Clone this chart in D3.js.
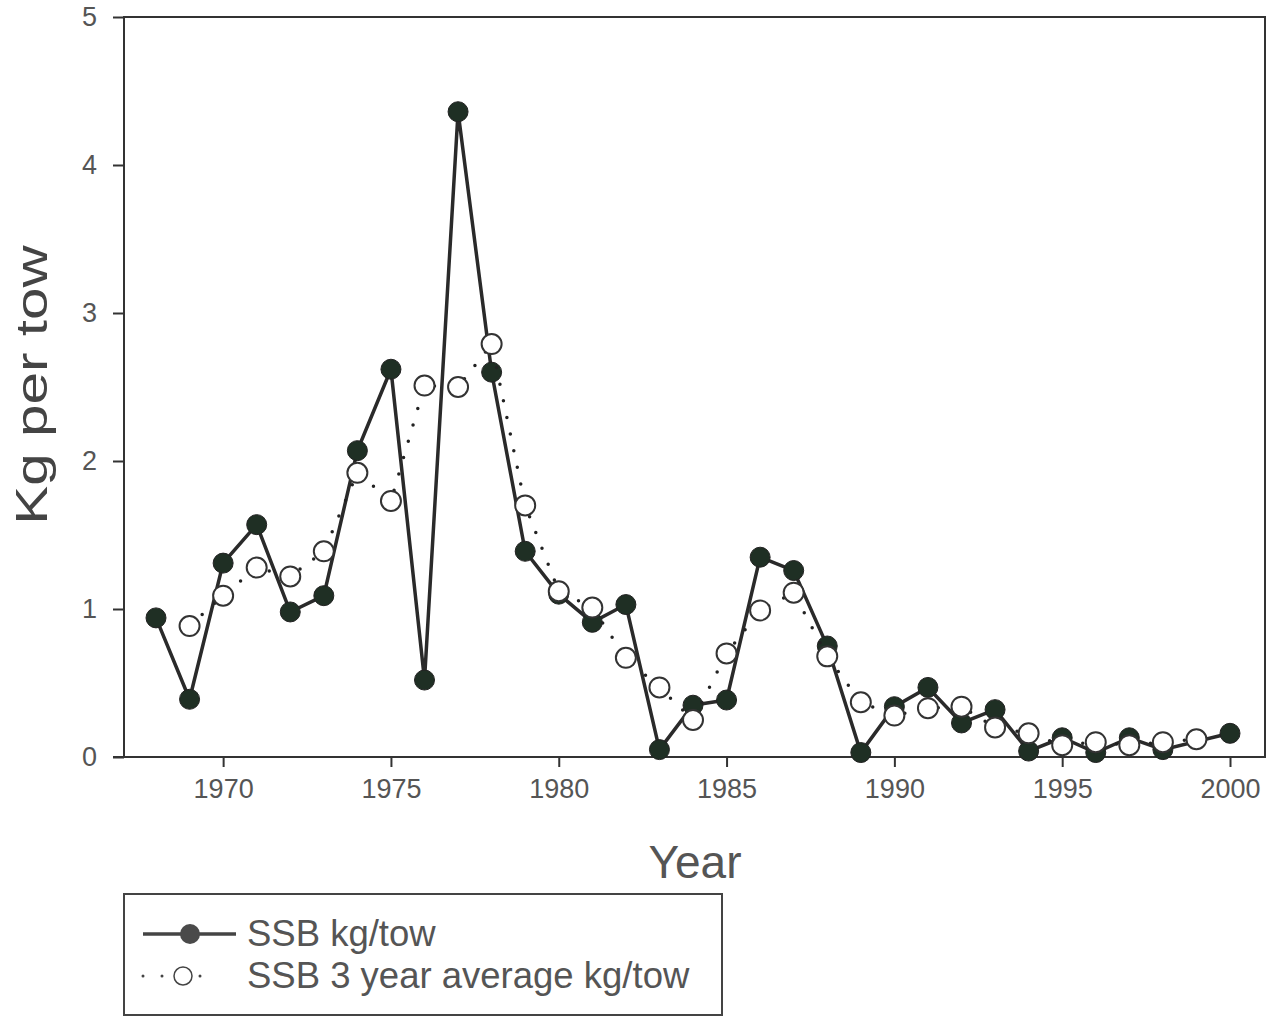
<!DOCTYPE html>
<html>
<head>
<meta charset="utf-8">
<script src="https://cdn.jsdelivr.net/npm/d3@7"></script>
<style>
  body { margin: 0; background: #fff; }
  text { font-family: "Liberation Sans", Arial, sans-serif; }
</style>
</head>
<body>
<svg id="chart" width="1277" height="1017"></svg>
<script>
var years = [1968,1969,1970,1971,1972,1973,1974,1975,1976,1977,1978,1979,1980,1981,1982,1983,1984,
             1985,1986,1987,1988,1989,1990,1991,1992,1993,1994,1995,1996,1997,1998,1999,2000]
var ssb = [0.94,0.39,1.31,1.57,0.98,1.09,2.07,2.62,0.52,4.36,2.60,1.39,1.10,0.91,1.03,0.05,0.35,
           0.385,1.35,1.26,0.75,0.03,0.34,0.47,0.23,0.32,0.04,0.13,0.03,0.13,0.05,null,0.16]
// 3 year running average, no value at the ends
var avg3 = [null,0.885,1.09,1.28,1.22,1.39,1.92,1.73,2.51,2.50,2.79,1.70,1.12,1.01,0.67,0.47,0.25,
            0.70,0.99,1.11,0.68,0.37,0.28,0.33,0.34,0.20,0.16,0.08,0.10,0.08,0.10,0.12,null]
var xTicks = [1970,1975,1980,1985,1990,1995,2000]
var yTicks = [0,1,2,3,4,5]
var legendLabels = ["SSB kg/tow", "SSB 3 year average kg/tow"]

var svg = d3.select("#chart")

var x = d3.scaleLinear().domain([1968, 2000]).range([156, 1230])
var y = d3.scaleLinear().domain([0, 5]).range([757, 17])

var plotL = 124, plotR = 1265, plotT = 17, plotB = 757

//frame
svg.append("rect").
    attr("x", plotL).
    attr("y", plotT).
    attr("width", plotR - plotL).
    attr("height", plotB - plotT).
    style("fill", "none").
    style("stroke", "#333").
    style("stroke-width", 2)

//axes
var xAxis = svg.append("g").
    attr("transform", "translate(0," + plotB + ")").
    call(d3.axisBottom(x).tickValues(xTicks).tickFormat(d3.format("d")).tickSize(10).tickPadding(12))
xAxis.select(".domain").attr("d", "M113,0H" + plotR).style("stroke", "#333").style("stroke-width", 2)

var yAxis = svg.append("g").
    attr("transform", "translate(" + plotL + ",0)").
    call(d3.axisLeft(y).tickValues(yTicks).tickFormat(d3.format("d")).tickSize(11).tickPadding(16))
yAxis.select(".domain").remove()

svg.selectAll(".tick line").style("stroke", "#333").style("stroke-width", 2)
svg.selectAll(".tick text").
    style("font-size", "27px").
    style("fill", "#555").
    style("font-family", "'Liberation Sans', Arial, sans-serif")

//axis titles
svg.append("text").
    attr("transform", "translate(47,385) rotate(-90) scale(1.33,1)").
    attr("text-anchor", "middle").
    style("font-size", "44px").
    style("fill", "#444").
    text("Kg per tow")

svg.append("text").
    attr("x", 695).
    attr("y", 878).
    attr("text-anchor", "middle").
    style("font-size", "46px").
    style("fill", "#555").
    text("Year")

var dark = "#1f2f24"

//solid series
var solidPts = years.map(function(d, i){ return {year: d, v: ssb[i]} }).filter(function(d){ return d.v != null })
var line = d3.line().x(function(d){ return x(d.year) }).y(function(d){ return y(d.v) })

svg.append("path").
    datum(solidPts).
    attr("d", line).
    style("fill", "none").
    style("stroke", "#2a2a2a").
    style("stroke-width", 3.5)

svg.selectAll(".filled").
    data(solidPts).
    enter().
    append("circle").
    attr("class", "filled").
    attr("cx", function(d){ return x(d.year) }).
    attr("cy", function(d){ return y(d.v) }).
    attr("r", 10).
    style("fill", dark).
    style("stroke", "#222").
    style("stroke-width", 1)

//3 year average
var avgPts = years.map(function(d, i){ return {year: d, v: avg3[i]} }).filter(function(d){ return d.v != null })

svg.append("path").
    datum(avgPts).
    attr("d", line).
    style("fill", "none").
    style("stroke", "#222").
    style("stroke-width", 3.5).
    style("stroke-linecap", "round").
    style("stroke-dasharray", "0 17")

svg.selectAll(".open").
    data(avgPts).
    enter().
    append("circle").
    attr("class", "open").
    attr("cx", function(d){ return x(d.year) }).
    attr("cy", function(d){ return y(d.v) }).
    attr("r", 10).
    style("fill", "white").
    style("stroke", "#333").
    style("stroke-width", 2)

//legend
var lg = svg.append("g")
lg.append("rect").
    attr("x", 124).
    attr("y", 894).
    attr("width", 598).
    attr("height", 121).
    style("fill", "white").
    style("stroke", "#444").
    style("stroke-width", 2)

lg.append("line").
    attr("x1", 143).attr("x2", 236).
    attr("y1", 934).attr("y2", 934).
    style("stroke", "#444").
    style("stroke-width", 3.5)
lg.append("circle").
    attr("cx", 190).attr("cy", 934).attr("r", 10).
    style("fill", "#4a4a4a")

lg.append("line").
    attr("x1", 143).attr("x2", 206).
    attr("y1", 976).attr("y2", 976).
    style("stroke", "#444").
    style("stroke-width", 3).
    style("stroke-linecap", "round").
    style("stroke-dasharray", "0 19")
lg.append("circle").
    attr("cx", 183).attr("cy", 976).attr("r", 9).
    style("fill", "white").
    style("stroke", "#444").
    style("stroke-width", 1.5)

lg.selectAll(".lgtext").
    data(legendLabels).
    enter().
    append("text").
    attr("class", "lgtext").
    attr("x", 247).
    attr("y", function(d, i){ return 946 + i * 42 }).
    style("font-size", "36.5px").
    style("fill", "#555").
    text(function(d){ return d })
</script>
</body>
</html>
